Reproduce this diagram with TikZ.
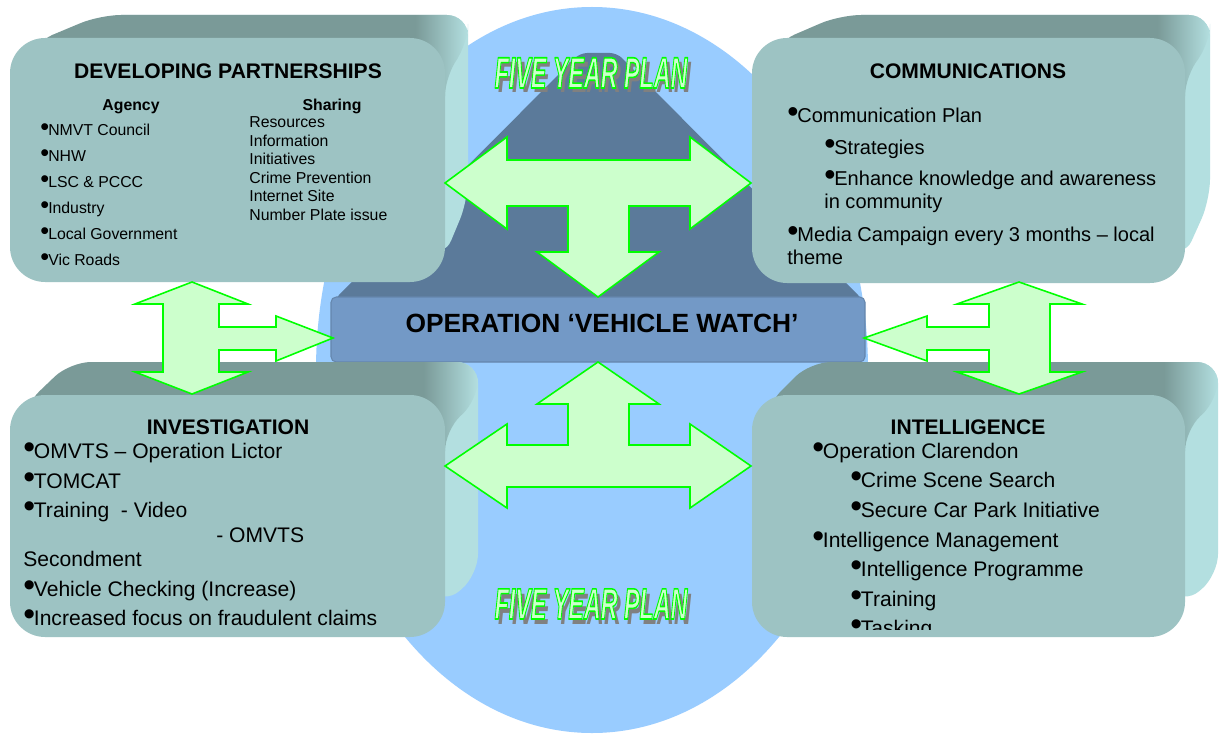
\documentclass[tikz,border=0pt]{standalone}
\usepackage{fontspec}
\setmainfont{Liberation Sans}

\definecolor{ovalblue}{HTML}{99CCFF}
\definecolor{facecol}{HTML}{9DC3C3}
\definecolor{topcol}{HTML}{7A9A98}
\definecolor{sidecol}{HTML}{B3DFE0}
\definecolor{opfront}{HTML}{7399C6}
\definecolor{optop}{HTML}{5B7A9A}
\definecolor{arrowfill}{HTML}{CCFFCC}
\definecolor{arrowline}{HTML}{00FF00}

\pgfdeclarehorizontalshading{topshade}{100bp}{color(0bp)=(topcol); color(69bp)=(topcol); color(75bp)=(sidecol); color(100bp)=(sidecol)}

\newcommand\bul{\makebox[0.5em][l]{\scalebox{1.6}{•}}}
\newcommand\fyp[1]{\scalebox{0.53}[1]{\fontsize{25}{25}\selectfont\bfseries\itshape #1}}
% outlined letters: fill and stroke (text render mode 2)
\newcommand\outlined[1]{\special{pdf:literal direct 0 1 0 RG 0.9 w 1 j 2 Tr}#1\special{pdf:literal direct 0 Tr}}

\tikzset{
  hull/.style={fill=sidecol, rounded corners=12pt},
  topface/.style={shading=topshade, rounded corners=12pt},
  face/.style={fill=facecol, rounded corners=20pt},
  blockarrow/.style={fill=arrowfill, draw=arrowline, line width=0.9pt, line join=miter},
  ttl/.style={font=\fontsize{12}{14}\selectfont\bfseries, anchor=base, inner sep=0pt},
  txt/.style={font=\fontsize{12}{14}\selectfont, anchor=base west, inner sep=0pt},
  commtxt/.style={font=\fontsize{11.4}{13}\selectfont, anchor=base west, inner sep=0pt},
  smalltxt/.style={font=\fontsize{9}{11}\selectfont, anchor=base west, inner sep=0pt},
  smallhead/.style={font=\fontsize{9}{11}\selectfont\bfseries, anchor=base, inner sep=0pt},
}

\begin{document}
\begin{tikzpicture}[x=0.02cm, y=-0.02cm]
\useasboundingbox (0,0) rectangle (1219,733);
\fill[white] (0,0) rectangle (1219,733);

\fill[ovalblue] (592,370) ellipse [x radius=276, y radius=363];

% centre block
\fill[optop, rounded corners=4pt] (334,300) -- (580,53) -- (617,53) -- (863,300) -- cycle;
\fill[opfront, draw=optop!60!opfront, line width=0.6pt, rounded corners=3pt] (331,297) rectangle (865,362);
\node[font=\fontsize{15}{17}\selectfont\bfseries, anchor=base, inner sep=0pt] (op) at (602,332) {OPERATION ‘VEHICLE WATCH’};

% developing partnerships
\fill[hull] (100,40) -- (100,15) -- (468,15) -- (468,200) -- (443,260) -- (400,200) -- cycle;
\shade[topface] (30,80) -- (33,43) -- (100,15) -- (468,15) -- (468,45) -- (445,75) -- (445,100) -- cycle;
\fill[face] (10,38) rectangle (445,282);
\node[ttl] (dptitle) at (228,79) {DEVELOPING PARTNERSHIPS};
\node[smallhead] (agency) at (131,111) {Agency};
\node[smallhead] (sharing) at (332,111) {Sharing};
\foreach \t [count=\i] in {NMVT Council, NHW, LSC \& PCCC, Industry, Local Government, Vic Roads}
  \node[smalltxt] (agency\i) at (40,{110.2+25.8*\i}) {\bul\t};
\foreach \t [count=\i] in {Resources, Information, Initiatives, Crime Prevention, Internet Site, Number Plate issue}
  \node[smalltxt] (sharing\i) at (249,{109.6+18.4*\i}) {\t};

% communications
\fill[hull] (840,40) -- (840,15) -- (1210,15) -- (1210,200) -- (1183,260) -- (1140,200) -- cycle;
\shade[topface] (772,80) -- (775,43) -- (840,15) -- (1210,15) -- (1210,45) -- (1185,75) -- (1185,100) -- cycle;
\fill[face] (752,38) rectangle (1185,283);
\node[ttl] (commtitle) at (968,79) {COMMUNICATIONS};
\node[commtxt] (comm1) at (787,123) {\bul Communication Plan};
\node[commtxt] (comm2) at (824,154) {\bul Strategies};
\node[commtxt] (comm3) at (824,186) {\bul Enhance knowledge and awareness};
\node[commtxt] (comm3b) at (824,209) {in community};
\node[commtxt] (comm4) at (787,241) {\bul Media Campaign every 3 months – local};
\node[commtxt] (comm4b) at (787,264) {theme};

% investigation
\fill[hull] (100,400) -- (100,362) -- (478,362) -- (478,575) -- (443,605) -- (400,560) -- cycle;
\shade[topface] (25,440) -- (24,406) -- (70,362) -- (478,362) -- (478,400) -- (445,430) -- (445,460) -- cycle;
\fill[face] (10,395) rectangle (445,637);
\node[ttl] (invtitle) at (228,434) {INVESTIGATION};
\node[txt] (inv1) at (23,458) {\bul OMVTS – Operation Lictor};
\node[txt] (inv2) at (23,488) {\bul TOMCAT};
\node[txt] (inv3) at (23,517) {\bul Training\ \ - Video};
\node[txt] (inv3b) at (216,542) {- OMVTS};
\node[txt] (inv3c) at (23,566) {Secondment};
\node[txt] (inv4) at (23,596) {\bul Vehicle Checking (Increase)};
\node[txt] (inv5) at (23,625) {\bul Increased focus on fraudulent claims};

% intelligence
\fill[hull] (850,400) -- (850,362) -- (1218,362) -- (1218,575) -- (1183,605) -- (1140,560) -- cycle;
\shade[topface] (767,440) -- (766,406) -- (810,362) -- (1218,362) -- (1218,400) -- (1185,430) -- (1185,460) -- cycle;
\fill[face] (752,395) rectangle (1185,637);
\node[ttl] (inttitle) at (968,434) {INTELLIGENCE};
\begin{scope}
\clip (752,395) rectangle (1185,629);
\node[txt] (int1) at (812,458) {\bul Operation Clarendon};
\node[txt] (int2) at (850,487) {\bul Crime Scene Search};
\node[txt] (int3) at (850,517) {\bul Secure Car Park Initiative};
\node[txt] (int4) at (812,547) {\bul Intelligence Management};
\node[txt] (int5) at (850,576) {\bul Intelligence Programme};
\node[txt] (int6) at (850,606) {\bul Training};
\node[txt] (int7) at (850,635) {\bul Tasking};
\end{scope}

% block arrows
\draw[blockarrow] (445,183) -- (507,137) -- (507,160) -- (690,160) -- (690,137) -- (751,183) -- (690,229) -- (690,206) -- (629,206) -- (629,252) -- (659,252) -- (598,297) -- (537,252) -- (568,252) -- (568,206) -- (507,206) -- (507,229) -- cycle;
\draw[blockarrow] (598,362) -- (659,404) -- (629,404) -- (629,445) -- (690,445) -- (690,424) -- (751,466) -- (690,508) -- (690,487) -- (507,487) -- (507,508) -- (445,466) -- (507,424) -- (507,445) -- (568,445) -- (568,404) -- (537,404) -- cycle;
\draw[blockarrow] (192,282) -- (248,304) -- (219,304) -- (219,327) -- (276,327) -- (276,316) -- (333,338) -- (276,361) -- (276,350) -- (219,350) -- (219,372) -- (248,372) -- (192,394) -- (135,372) -- (163,372) -- (163,304) -- (135,304) -- cycle;
\draw[blockarrow] (1019,282) -- (1082,304) -- (1050,304) -- (1050,372) -- (1082,372) -- (1019,394) -- (957,372) -- (989,372) -- (989,350) -- (927,350) -- (927,361) -- (864,338) -- (927,316) -- (927,327) -- (989,327) -- (989,304) -- (957,304) -- cycle;

% five year plan, top and bottom
\node[anchor=base, inner sep=0pt, text=gray] (fyptopshadow) at (595,93) {\fyp{FIVE YEAR PLAN}};
\node[anchor=base, inner sep=0pt, text=arrowfill] (fyptop) at (591,88) {\fyp{\outlined{FIVE YEAR PLAN}}};
\node[anchor=base, inner sep=0pt, text=gray] (fypbotshadow) at (595,624) {\fyp{FIVE YEAR PLAN}};
\node[anchor=base, inner sep=0pt, text=arrowfill] (fypbot) at (591,619) {\fyp{\outlined{FIVE YEAR PLAN}}};
\end{tikzpicture}
\end{document}
